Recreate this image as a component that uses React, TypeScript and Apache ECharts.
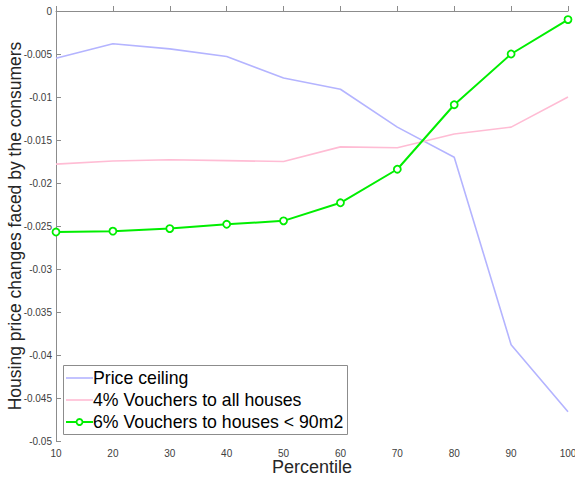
import React, { useEffect, useRef } from "react";
import * as echarts from "echarts";

const percentiles = [10, 20, 30, 40, 50, 60, 70, 80, 90, 100];
const priceCeiling = [-0.0055, -0.0038, -0.0044, -0.0053, -0.0078, -0.0091, -0.0135, -0.017, -0.0388, -0.0466];
const vouchersAll = [-0.0178, -0.01745, -0.0173, -0.0174, -0.0175, -0.0158, -0.0159, -0.0143, -0.0135, -0.01];
const vouchersSmall = [-0.0257, -0.0256, -0.0253, -0.0248, -0.0244, -0.0223, -0.0184, -0.0109, -0.005, -0.001];

const seriesNames = ["Price ceiling", "4% Vouchers to all houses", "6% Vouchers to houses < 90m2"];
const seriesColors = ["#b4b4ff", "#ffbcd4", "#00ee00"];

const pairs = (ys: number[]) => percentiles.map((x, i) => [x, ys[i]]);

const FONT = "Liberation Sans, Arial, sans-serif";

// Boxed legend in the lower-left corner of the plot
function legendGraphic() {
  const left = 63;
  const top = 365;
  const rowH = 22;
  const children: any[] = [
    {
      type: "rect",
      shape: { x: left + 0.5, y: top + 0.5, width: 284, height: 69 },
      style: { fill: "#ffffff", stroke: "#8c8c8c", lineWidth: 1 },
    },
  ];
  seriesNames.forEach((name, i) => {
    const cy = top + 13 + i * rowH;
    children.push({
      type: "line",
      shape: { x1: left + 3, y1: cy, x2: left + 30, y2: cy },
      style: { stroke: seriesColors[i], lineWidth: i === 2 ? 2 : 1.6 },
    });
    if (i === 2) {
      children.push({
        type: "circle",
        shape: { cx: left + 16.5, cy, r: 3 },
        style: { fill: "#ffffff", stroke: seriesColors[i], lineWidth: 1.8 },
      });
    }
    children.push({
      type: "text",
      x: left + 30,
      y: cy,
      style: {
        text: name,
        fontSize: 17.7,
        fontFamily: FONT,
        fill: "#000000",
        verticalAlign: "middle",
        align: "left",
      },
    });
  });
  return { type: "group", z: 100, children };
}

export default function App() {
  const ref = useRef<HTMLDivElement>(null);

  useEffect(() => {
    if (!ref.current) return;
    const chart = echarts.init(ref.current, undefined, { renderer: "svg" });
    const axisColor = "#8c8c8c";
    const tickLabel = { color: "#404040", fontSize: 10, fontFamily: FONT };
    chart.setOption({
      animation: false,
      backgroundColor: "#ffffff",
      grid: { left: 56, right: 7, top: 11, bottom: 37, containLabel: false, outerBoundsMode: "none" },
      xAxis: {
        type: "value",
        min: 10,
        max: 100,
        interval: 10,
        name: "Percentile",
        nameLocation: "middle",
        nameMoveOverlap: false,
        nameGap: 17,
        nameTextStyle: { fontSize: 18, color: "#262626", fontFamily: FONT },
        axisLine: { show: true, lineStyle: { color: axisColor, width: 1 } },
        axisTick: { show: true, inside: true, length: 5, lineStyle: { color: axisColor } },
        axisLabel: { ...tickLabel, margin: 7 },
        splitLine: { show: false },
      },
      yAxis: {
        type: "value",
        min: -0.05,
        max: 0,
        interval: 0.005,
        name: "Housing price changes faced by the consumers",
        nameLocation: "middle",
        nameMoveOverlap: false,
        nameGap: 32,
        nameTextStyle: { fontSize: 17.5, color: "#262626", fontFamily: FONT },
        axisLine: { show: true, lineStyle: { color: axisColor, width: 1 } },
        axisTick: { show: true, inside: true, length: 5, lineStyle: { color: axisColor } },
        axisLabel: {
          ...tickLabel,
          margin: 4,
          formatter: (v: number) => String(parseFloat(v.toFixed(3))),
        },
        splitLine: { show: false },
      },
      graphic: [legendGraphic()],
      series: [
        {
          name: seriesNames[0],
          type: "line",
          data: pairs(priceCeiling),
          symbol: "none",
          lineStyle: { color: seriesColors[0], width: 1.6 },
          itemStyle: { color: seriesColors[0] },
        },
        {
          name: seriesNames[1],
          type: "line",
          data: pairs(vouchersAll),
          symbol: "none",
          lineStyle: { color: seriesColors[1], width: 1.6 },
          itemStyle: { color: seriesColors[1] },
        },
        {
          name: seriesNames[2],
          type: "line",
          data: pairs(vouchersSmall),
          symbol: "circle",
          symbolSize: 7,
          lineStyle: { color: seriesColors[2], width: 2 },
          itemStyle: { color: "#ffffff", borderColor: seriesColors[2], borderWidth: 1.8 },
          z: 5,
        },
      ],
    });
    return () => chart.dispose();
  }, []);

  return (
    <div
      ref={ref}
      style={{ position: "fixed", left: 0, top: 0, width: 575, height: 478, background: "#fff" }}
    />
  );
}
